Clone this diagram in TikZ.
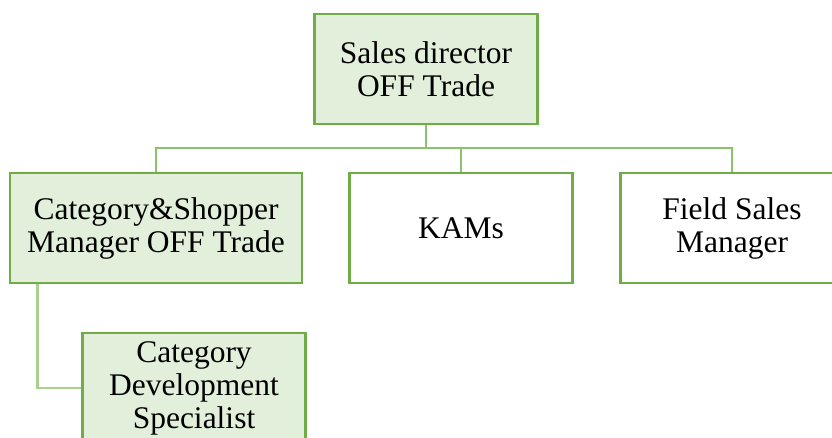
\documentclass[tikz,border=0pt]{standalone}
\usepackage{fontspec}
\setmainfont{Liberation Serif}
\definecolor{boxgreen}{HTML}{70AD47}
\definecolor{boxfill}{HTML}{E2EFDA}
\definecolor{linkgreen}{HTML}{8CC26E}
\definecolor{sublinkgreen}{HTML}{A9D18E}
\begin{document}
\begin{tikzpicture}[x=1pt, y=-1pt,
    box/.style = {draw=boxgreen, line width=2.6pt, fill=white, minimum width=223pt,
                  minimum height=110pt, inner sep=0pt, align=center,
                  font=\fontsize{31.5}{33}\selectfont},
    filled/.style = {box, fill=boxfill},
    link/.style = {draw=linkgreen, line width=2.6pt},
    sublink/.style = {draw=sublinkgreen, line width=2.6pt}]
  \useasboundingbox[fill=white] (0,0) rectangle (832,437);

  % boxes
  \node[filled] (director) at (426,69) {Sales director\\OFF Trade};
  \node[filled, minimum width=292pt] (category) at (156,228) {Category\&Shopper\\Manager OFF Trade};
  \node[box] (kams) at (461,228) {KAMs};
  \node[box] (field) at (732,228) {Field Sales\\Manager};
  \node[filled] (specialist) at (194,388) {Category\\Development\\Specialist};

  % lines from the director down to the second row
  \coordinate (bar) at (426,148);
  \draw[link] (director.south) -- (bar);
  \draw[link] (category.north) -- (category.north |- bar) -- (field.north |- bar) -- (field.north);
  \draw[link] (kams.north) -- (kams.north |- bar);

  % side line to the specialist
  \draw[sublink] ([xshift=29pt]category.south west) |- (specialist.west);
\end{tikzpicture}
\end{document}
